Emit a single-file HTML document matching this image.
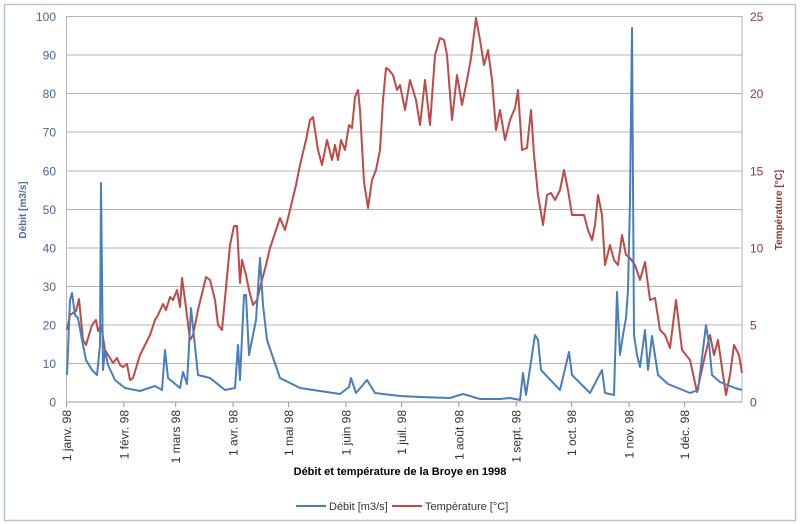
<!DOCTYPE html>
<html><head><meta charset="utf-8"><style>
html,body{margin:0;padding:0;background:#fff;}
svg{display:block;font-family:"Liberation Sans",sans-serif;}
</style></head><body>
<svg width="800" height="526" viewBox="0 0 800 526">
<rect x="0" y="0" width="800" height="526" fill="#fff"/>
<rect x="4.5" y="4.5" width="791" height="516" fill="#fff" stroke="#b9c4cf" stroke-width="1.5"/>
<g stroke="#b5b5b5" stroke-width="1">
<line x1="67" y1="16.5" x2="742" y2="16.5"/>
<line x1="67" y1="55" x2="742" y2="55"/>
<line x1="67" y1="93.5" x2="742" y2="93.5"/>
<line x1="67" y1="132" x2="742" y2="132"/>
<line x1="67" y1="171" x2="742" y2="171"/>
<line x1="67" y1="209.5" x2="742" y2="209.5"/>
<line x1="67" y1="248" x2="742" y2="248"/>
<line x1="67" y1="286.5" x2="742" y2="286.5"/>
<line x1="67" y1="325" x2="742" y2="325"/>
<line x1="67" y1="363.5" x2="742" y2="363.5"/>
<line x1="66.5" y1="16" x2="66.5" y2="402"/>
<line x1="742" y1="16" x2="742" y2="402"/>
<line x1="67" y1="402" x2="742" y2="402" stroke="#999"/>
</g>
<g stroke="#999" stroke-width="1">
<line x1="66.5" y1="402" x2="66.5" y2="407"/><line x1="123.9" y1="402" x2="123.9" y2="407"/><line x1="175.7" y1="402" x2="175.7" y2="407"/><line x1="233.1" y1="402" x2="233.1" y2="407"/><line x1="288.6" y1="402" x2="288.6" y2="407"/><line x1="346" y1="402" x2="346" y2="407"/><line x1="401.5" y1="402" x2="401.5" y2="407"/><line x1="458.8" y1="402" x2="458.8" y2="407"/><line x1="516.2" y1="402" x2="516.2" y2="407"/><line x1="571.7" y1="402" x2="571.7" y2="407"/><line x1="629.1" y1="402" x2="629.1" y2="407"/><line x1="684.6" y1="402" x2="684.6" y2="407"/>
</g>
<g font-size="12" fill="#4a6690" text-anchor="end">
<text x="56" y="21">100</text><text x="56" y="59.5">90</text><text x="56" y="98">80</text><text x="56" y="136.5">70</text><text x="56" y="175.5">60</text><text x="56" y="214">50</text><text x="56" y="252.5">40</text><text x="56" y="291">30</text><text x="56" y="329.5">20</text><text x="56" y="368">10</text><text x="56" y="406.5">0</text>
</g>
<g font-size="12" fill="#953735">
<text x="750" y="21">25</text><text x="750" y="98">20</text><text x="750" y="175.5">15</text><text x="750" y="252.5">10</text><text x="750" y="329.5">5</text><text x="750" y="406.5">0</text>
</g>
<g font-size="12" fill="#333" text-anchor="end">
<text transform="translate(71,410) rotate(-90)">1 janv. 98</text>
<text transform="translate(128.4,410) rotate(-90)">1 févr. 98</text>
<text transform="translate(180.2,410) rotate(-90)">1 mars 98</text>
<text transform="translate(237.6,410) rotate(-90)">1 avr. 98</text>
<text transform="translate(293.1,410) rotate(-90)">1 mai 98</text>
<text transform="translate(350.5,410) rotate(-90)">1 juin 98</text>
<text transform="translate(406,410) rotate(-90)">1 juil. 98</text>
<text transform="translate(463.3,410) rotate(-90)">1 août 98</text>
<text transform="translate(520.7,410) rotate(-90)">1 sept. 98</text>
<text transform="translate(576.2,410) rotate(-90)">1 oct. 98</text>
<text transform="translate(633.6,410) rotate(-90)">1 nov. 98</text>
<text transform="translate(689.1,410) rotate(-90)">1 déc. 98</text>
</g>
<text transform="translate(26,210) rotate(-90)" text-anchor="middle" font-size="10" font-weight="bold" fill="#4a6fa5">Débit [m3/s]</text>
<text transform="translate(782,210) rotate(-90)" text-anchor="middle" font-size="10" font-weight="bold" fill="#953735">Température [°C]</text>
<text x="400" y="475" text-anchor="middle" font-size="11" font-weight="bold" fill="#000">Débit et température de la Broye en  1998</text>
<polyline fill="none" stroke="#be4b48" stroke-width="2" stroke-linejoin="round" points="67,330 70,315 76,311 79,299 83,340 86,345 92,325 96,320 98,331 101,325 105,350 110,358 113,363 117,358 120,365 123,367 127,364 130,380 133,378 140,355 150,335 155,320 158,315 163,304 166,310 170,297 173,300 177,290 180,307 182,278 185,300 190,340 193,335 198,310 206,277 210,280 215,300 218,325 222,330 230,245 234,226 237,226 240,283 242,260 246,275 249,290 253,305 257,300 262,280 266,265 270,248 275,233 280,218 285,230 290,210 296,185 300,165 306,140 310,120 313,117 318,150 322,165 327,140 332,160 335,145 338,160 341,140 345,150 349,125 352,128 355,97 358,90 360,110 364,182 368,208 372,180 376,170 380,150 383,100 386,68 389,70 393,75 397,90 400,85 405,110 410,80 416,100 420,125 425,80 430,125 435,55 440,38 444,40 447,55 452,120 457,75 462,105 467,80 471,58 476,18 480,40 484,65 488,50 492,80 496,130 500,110 505,140 510,120 515,108 518,90 522,150 527,148 531,110 534,155 538,195 543,225 547,195 551,193 555,200 560,190 564,170 568,190 572,215 578,215 584,215 588,230 592,240 595,225 598,195 602,215 605,265 610,245 614,260 618,265 622,235 626,255 630,258 635,265 640,280 645,262 650,300 655,298 660,330 665,335 670,348 676,300 682,350 690,360 697,392 704,360 710,335 714,355 718,340 722,368 726,395 730,375 734,345 739,355 742,373"/>
<polyline fill="none" stroke="#4a7ebb" stroke-width="2" stroke-linejoin="round" points="67,375 70,300 72,293 75,315 78,318 82,340 86,360 92,370 97,375 100,345 101,183 103,370 105,350 108,365 115,380 125,388 140,391 155,386 162,390 165,350 168,378 180,388 183,372 187,384 191,308 194,337 198,375 210,378 225,390 235,388 238,345 240,380 244,295 246,295 249,355 256,320 260,258 263,305 267,340 280,378 300,388 340,394 349,387 351,378 356,393 367,380 375,393 400,396 420,397 450,398 463,394 480,399 500,399 510,398 520,400 523,373 526,395 535,335 538,340 541,370 560,390 569,352 572,375 590,393 602,370 605,393 614,395 617,292 620,355 623,335 626,318 628,290 630,200 632,28 634,335 637,355 640,367 645,330 648,370 652,336 658,375 668,384 690,393 698,390 706,325 709,344 712,375 720,382 735,388 742,390"/>
<line x1="296" y1="506" x2="326" y2="506" stroke="#4a7ebb" stroke-width="2"/>
<text x="329" y="510" font-size="11" fill="#333">Débit [m3/s]</text>
<line x1="392" y1="506" x2="422" y2="506" stroke="#be4b48" stroke-width="2"/>
<text x="425" y="510" font-size="11" fill="#333">Température [°C]</text>
</svg>
</body></html>
